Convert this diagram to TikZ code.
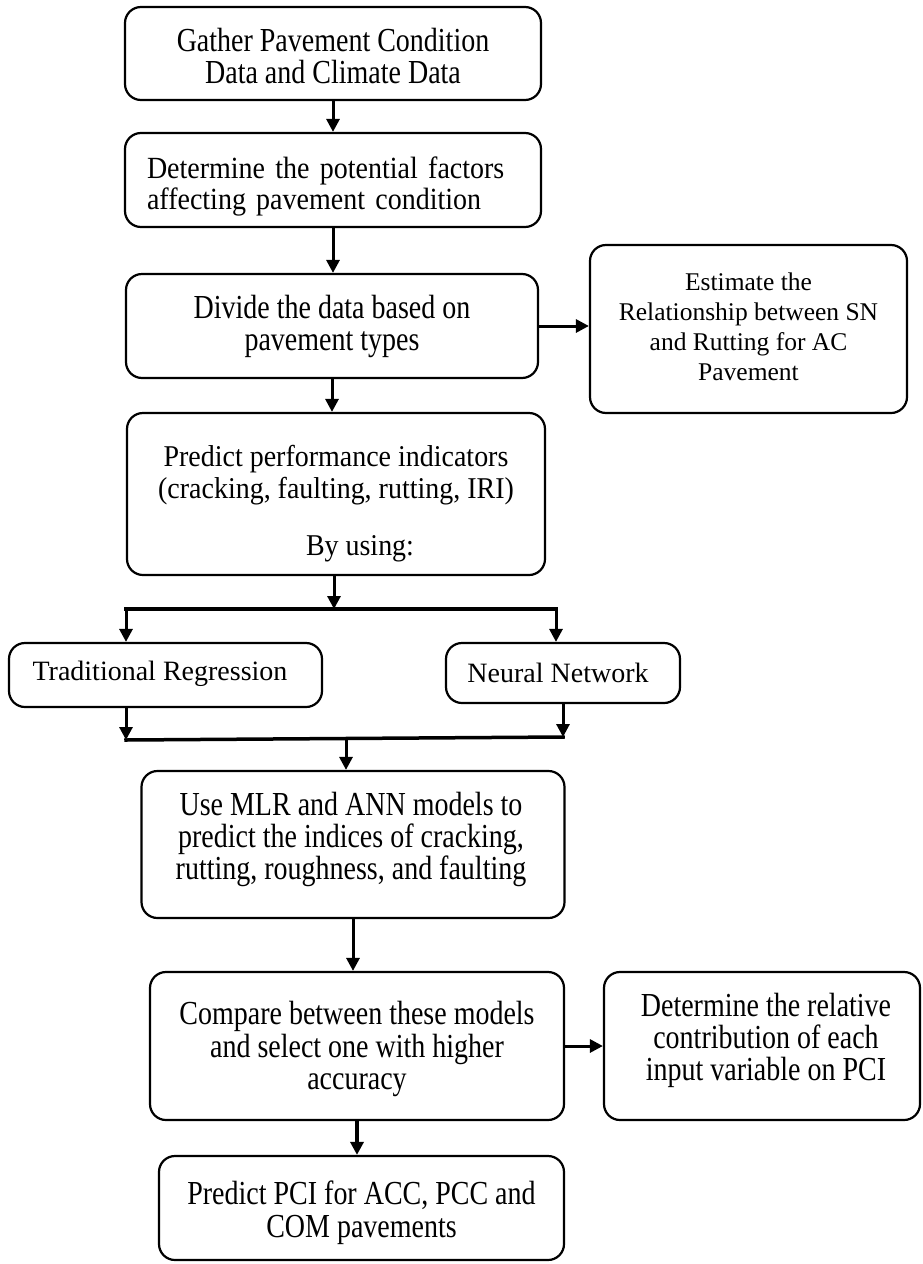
\documentclass[tikz,border=0pt]{standalone}
\usepackage{fontspec}
\setmainfont{Liberation Serif}
\newfontfamily\fsA[FakeStretch=0.833]{Liberation Serif}
\newfontfamily\fsB[FakeStretch=0.909]{Liberation Serif}
\newfontfamily\fsC[FakeStretch=0.926]{Liberation Serif}
\usetikzlibrary{arrows.meta,calc}
\begin{document}
\begin{tikzpicture}[x=1pt,y=-1pt,
  box/.style={draw, line width=2.2pt, rounded corners=16pt, inner sep=0pt},
  txt/.style={inner sep=0pt, align=center, anchor=north},
  tA/.style={txt, font=\fsA\fontsize{33.6}{32}\selectfont},
  arr/.style={line width=3pt, -{Triangle[length=13pt,width=13pt]}},
  ln/.style={line width=3.5pt, line cap=rect}]
\useasboundingbox (0,0) rectangle (922,1264);

% boxes
\node[box, minimum width=416pt, minimum height=93pt] (b1) at (333,53.5) {};
\node[box, minimum width=416pt, minimum height=94pt] (b2) at (333,180) {};
\node[box, minimum width=412pt, minimum height=104pt] (b3) at (332,326) {};
\node[box, minimum width=317pt, minimum height=168pt] (b4) at (748.5,329) {};
\node[box, minimum width=418pt, minimum height=162pt] (b5) at (336,494) {};
\node[box, minimum width=313pt, minimum height=64pt] (tr) at (165.5,675) {};
\node[box, minimum width=234pt, minimum height=60pt] (nn) at (563,673) {};
\node[box, minimum width=423pt, minimum height=147pt] (use) at (353,844.5) {};
\node[box, minimum width=414pt, minimum height=148pt] (cmp) at (357,1046) {};
\node[box, minimum width=316pt, minimum height=148pt] (det) at (762,1046) {};
\node[box, minimum width=405pt, minimum height=104pt] (pci) at (361.5,1208) {};

% texts
\node[tA] (b1t) at (333,28) {Gather Pavement Condition\\Data and Climate Data};
\node[txt, align=left, text width=372pt, font=\fsB\fontsize{30.8}{31}\selectfont] (b2t) at (333,157)
  {Determine the potential factors\\affecting pavement condition};
\node[tA] (b3t) at (332,295) {Divide the data based on\\pavement types};
\node[txt, font=\fontsize{25.5}{30}\selectfont] (b4t) at (748.5,273)
  {Estimate the\\Relationship between SN\\and Rutting for AC\\Pavement};
\node[txt, font=\fsC\fontsize{30.2}{32}\selectfont] (b5t) at (336,445)
  {Predict performance indicators\\(cracking, faulting, rutting, IRI)\\[25pt]\hspace*{48pt}By using:};
\node[inner sep=0pt, anchor=base, font=\fontsize{28}{32}\selectfont] (trt) at (160,680) {Traditional Regression};
\node[inner sep=0pt, anchor=base, font=\fontsize{28}{32}\selectfont] (nnt) at (558,682) {Neural Network};
\node[tA] (uset) at (351,792)
  {Use MLR and ANN models to\\predict the indices of cracking,\\rutting, roughness, and faulting};
\node[tA, font=\fsA\fontsize{33.6}{32.5}\selectfont] (cmpt) at (357,1001)
  {Compare between these models\\and select one with higher\\accuracy};
\node[tA] (dett) at (766,993)
  {Determine the relative\\contribution of each\\input variable on PCI};
\node[tA, font=\fsA\fontsize{33.6}{33}\selectfont] (pcit) at (361.5,1181)
  {Predict PCI for ACC, PCC and\\COM pavements};

% connectors
\draw[arr] (b1.south) -- (b1.south |- b2.north);
\draw[arr] (b2.south) -- (b2.south |- b3.north);
\draw[arr] (b3.east) -- (b3.east -| b4.west);
\draw[arr] (b3.south) -- (b3.south |- b5.north);

\coordinate (sp) at (334,609);
\coordinate (sl) at (126,609);
\coordinate (sr) at (556,609);
\draw[arr] (b5.south -| sp) -- (sp);
\draw[ln] (sl) -- (sr);
\draw[arr] (sl) -- (sl |- tr.north);
\draw[arr] (sr) -- (sr |- nn.north);

\coordinate (ml) at (126,740);
\coordinate (mr) at (563,737);
\coordinate (mm) at (346,739);
\draw[arr] (tr.south -| ml) -- (ml);
\draw[arr] (nn.south -| mr) -- (mr);
\draw[ln] (ml) -- (mr);
\draw[arr] (mm) -- (mm |- use.north);

\draw[arr] (use.south) -- (use.south |- cmp.north);
\draw[arr] (cmp.east) -- (cmp.east -| det.west);
\draw[arr, line width=4.5pt] (cmp.south) -- (cmp.south |- pci.north);
\end{tikzpicture}
\end{document}
